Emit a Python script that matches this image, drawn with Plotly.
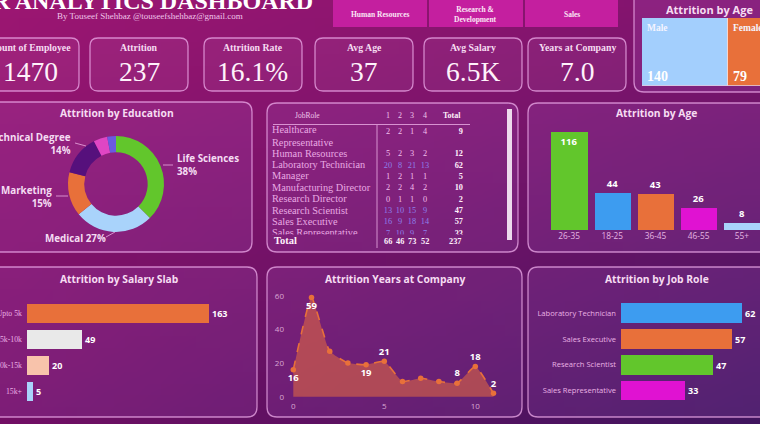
import base64, struct, zlib
import plotly.graph_objects as go

W, H = 760, 424
def X(px): return px / W
def Y(py): return 1 - py / H

# ---------------- data ----------------
kpi_titles = ["Count of Employee", "Attrition", "Attrition Rate", "Avg Age", "Avg Salary", "Years at Company"]
kpi_values = ["1470", "237", "16.1%", "37", "6.5K", "7.0"]
dept_buttons = ["Human Resources", "Research &<br>Development", "Sales"]

gender_labels = ["Male", "Female"]
gender_values = [140, 79]

edu_labels = ["Life Sciences", "Medical", "Marketing", "Technical Degree", "Other", "Human Resources"]
edu_values = [89, 63, 35, 32, 11, 7]

age_groups = ["26-35", "18-25", "36-45", "46-55", "55+"]
age_attrition = [116, 44, 43, 26, 8]

salary_slabs = ["Upto 5k", "5k-10k", "10k-15k", "15k+"]
salary_attrition = [163, 49, 20, 5]

years_at_company = list(range(12))
years_attrition = [16, 59, 27, 20, 19, 21, 9, 11, 9, 8, 18, 2]
years_labelled = [0, 1, 4, 5, 9, 10, 11]

job_roles_top = ["Laboratory Technician", "Sales Executive", "Research Scientist", "Sales Representative"]
job_role_attrition = [62, 57, 47, 33]

table_roles = ["Healthcare Representative", "Human Resources", "Laboratory Technician", "Manager",
               "Manufacturing Director", "Research Director", "Research Scientist", "Sales Executive",
               "Sales Representative"]
table_levels = ["1", "2", "3", "4"]
table_values = [[2, 2, 1, 4], [5, 2, 3, 2], [20, 8, 21, 13], [1, 2, 1, 1], [2, 2, 4, 2],
                [0, 1, 1, 0], [13, 10, 15, 9], [16, 9, 18, 14], [7, 10, 9, 7]]

# ---------------- style ----------------
ORANGE = "#e8703a"
PINK_TXT = "#f0c4ea"
TITLE_TXT = "#f6dcf2"
BORDER = "rgba(236,170,232,0.75)"
PANEL_FILL = "rgba(200,130,245,0.13)"
SERIF = "Liberation Serif"
SANS = "Open Sans"

# ---------------- background gradient image ----------------
def gradient_png(w, h, tl, tr, bl, br):
    rows = []
    for j in range(h):
        v = j / (h - 1)
        row = bytearray([0])
        for i in range(w):
            u = i / (w - 1)
            for c in range(3):
                top = tl[c] * (1 - u) + tr[c] * u
                bot = bl[c] * (1 - u) + br[c] * u
                row.append(int(round(top * (1 - v) + bot * v)))
        rows.append(bytes(row))
    raw = b"".join(rows)
    def chunk(t, d):
        return struct.pack(">I", len(d)) + t + d + struct.pack(">I", zlib.crc32(t + d) & 0xffffffff)
    png = b"\x89PNG\r\n\x1a\n" + chunk(b"IHDR", struct.pack(">IIBBBBB", w, h, 8, 2, 0, 0, 0)) \
        + chunk(b"IDAT", zlib.compress(raw, 9)) + chunk(b"IEND", b"")
    return "data:image/png;base64," + base64.b64encode(png).decode()

bg = gradient_png(64, 36, (156, 22, 114), (128, 20, 110), (114, 14, 100), (64, 20, 94))

def rrect(x0, y0, x1, y1, r):
    p = (f"M {X(x0 + r)},{Y(y0)} L {X(x1 - r)},{Y(y0)} Q {X(x1)},{Y(y0)} {X(x1)},{Y(y0 + r)} "
         f"L {X(x1)},{Y(y1 - r)} Q {X(x1)},{Y(y1)} {X(x1 - r)},{Y(y1)} "
         f"L {X(x0 + r)},{Y(y1)} Q {X(x0)},{Y(y1)} {X(x0)},{Y(y1 - r)} "
         f"L {X(x0)},{Y(y0 + r)} Q {X(x0)},{Y(y0)} {X(x0 + r)},{Y(y0)} Z")
    return p

shapes, annotations = [], []

def ann(x, y, text, size, color="white", family=SANS, xanchor="center", yanchor="middle", **kw):
    annotations.append(dict(x=X(x), y=Y(y), xref="paper", yref="paper", text=text, showarrow=False,
                            font=dict(size=size, color=color, family=family),
                            xanchor=xanchor, yanchor=yanchor, **kw))

# panels
panels = [("Attrition by Education", -18, 102, 252, 252, 113),
          ("", 267, 103, 518, 252, 0),
          ("Attrition by Age", 528, 103, 785, 252, 113),
          ("Attrition by Salary Slab", -18, 267, 257, 417, 279),
          ("Attrition Years at Company", 267, 267, 522, 417, 279),
          ("Attrition by Job Role", 528, 267, 785, 417, 279),
          ("Attrition by Age", 634, -10, 785, 92, 9)]
for title, x0, y0, x1, y1, ty in panels:
    shapes.append(dict(type="path", path=rrect(x0, y0, x1, y1, 10), xref="paper", yref="paper",
                       fillcolor=PANEL_FILL, line=dict(color=BORDER, width=1.3), layer="below"))
    if title:
        ann((x0 + x1) / 2, ty, f"<b>{title}</b>", 11 if ty == 9 else 10.3, TITLE_TXT)

# KPI cards
card_left = [-19, 90, 204, 315, 424, 528]
for i, (t, v) in enumerate(zip(kpi_titles, kpi_values)):
    x0 = card_left[i]
    shapes.append(dict(type="path", path=rrect(x0, 38, x0 + 98, 91, 8), xref="paper", yref="paper",
                       fillcolor="rgba(255,200,255,0.07)", line=dict(color=BORDER, width=1.3), layer="below"))
    ann(x0 + 49, 47, f"<b>{t}</b>", 9.8, TITLE_TXT, SERIF)
    ann(x0 + 49, 72, v, 27.5, "#fff2fb", SERIF)

# department buttons
btn = [(333, 427), (429, 523), (525, 618)]
for (x0, x1), t in zip(btn, dept_buttons):
    shapes.append(dict(type="rect", x0=X(x0), x1=X(x1), y0=Y(27), y1=Y(-2), xref="paper", yref="paper",
                       fillcolor="#c41f9f", line=dict(width=0), layer="below"))
    ann((x0 + x1) / 2, 14, f"<b>{t}</b>", 7.5, "#fbe6f6", SERIF)

# header texts
ann(315, 1, "<b>HR ANALYTICS DASHBOARD</b>", 24, "white", SERIF, xanchor="right")
ann(150, 16, "By Touseef Shehbaz @touseefshehbaz@gmail.com", 9, PINK_TXT, SERIF)

fig = go.Figure()

# ---------------- education donut ----------------
edu_colors = ["#62c62c", "#a9d3fb", ORANGE, "#56107c", "#e046c4", "#6b5ae0"]
fig.add_trace(go.Pie(labels=edu_labels, values=edu_values, hole=0.66, sort=False, direction="clockwise",
                     rotation=0, textinfo="none", marker=dict(colors=edu_colors, line=dict(width=0)),
                     domain=dict(x=[X(68), X(164)], y=[Y(232), Y(136)]), showlegend=False))
tot_edu = sum(edu_values)
pct = {l: f"{round(100 * v / tot_edu)}%" for l, v in zip(edu_labels, edu_values)}
lbl = "#f4dcf2"
ann(73, 144, f"<b>Technical Degree<br>{pct['Technical Degree']}</b>", 9.8, lbl, xanchor="right", align="right")
ann(175, 165, f"<b>Life Sciences<br>{pct['Life Sciences']}</b>", 9.8, lbl, xanchor="left", align="left")
ann(54, 197, f"<b>Marketing<br>{pct['Marketing']}</b>", 9.8, lbl, xanchor="right", align="right")
ann(43, 238, f"<b>Medical {pct['Medical']}</b>", 9.8, lbl, xanchor="left")
for (a, b, c, d) in [(75, 143, 86, 146), (163, 165, 173, 165), (56, 196, 68, 196), (106, 237, 115, 232)]:
    shapes.append(dict(type="line", x0=X(a), y0=Y(b), x1=X(c), y1=Y(d), xref="paper", yref="paper",
                       line=dict(color="rgba(235,170,225,0.8)", width=1)))

# ---------------- age bars ----------------
age_colors = ["#62c62c", "#3d9cf0", ORANGE, "#e012d2", "#a9d3fb"]
fig.add_trace(go.Bar(x=age_groups, y=age_attrition, marker=dict(color=age_colors, line=dict(width=0)),
                     text=[str(v) for v in age_attrition],
                     textposition=["inside"] + ["outside"] * (len(age_groups) - 1),
                     insidetextanchor="end", textangle=0, cliponaxis=False, width=0.84,
                     textfont=dict(size=9.5, color="white", family=SANS, weight="bold"),
                     xaxis="x", yaxis="y", showlegend=False))

# ---------------- salary slab ----------------
sal_colors = [ORANGE, "#e9e9e9", "#f8c3ab", "#a9d3fb"]
fig.add_trace(go.Bar(y=salary_slabs, x=salary_attrition, orientation="h",
                     marker=dict(color=sal_colors, line=dict(width=0)), width=0.74,
                     text=[str(v) for v in salary_attrition], textposition="outside", cliponaxis=False,
                     textfont=dict(size=9, color="white", family=SANS, weight="bold"),
                     xaxis="x2", yaxis="y2", showlegend=False))

# ---------------- years at company ----------------
fig.add_trace(go.Scatter(x=years_at_company, y=years_attrition, mode="lines+markers+text",
                         fill="tozeroy", fillcolor="rgba(232,108,62,0.55)",
                         line=dict(color=ORANGE, width=1.6, dash="dash", shape="spline", smoothing=0.4),
                         marker=dict(size=5.5, color=ORANGE),
                         text=[f"<b>{v}</b>" if i in years_labelled else "" for i, v in enumerate(years_attrition)],
                         textposition=["bottom center", "bottom center", "top center", "top center",
                                       "bottom center", "top center", "top center", "top center",
                                       "top center", "top center", "top center", "top center"],
                         textfont=dict(size=9.5, color="white", family=SANS), cliponaxis=False,
                         xaxis="x3", yaxis="y3", showlegend=False))

# ---------------- job role ----------------
job_colors = ["#3d9cf0", ORANGE, "#62c62c", "#e012d2"]
fig.add_trace(go.Bar(y=job_roles_top, x=job_role_attrition, orientation="h",
                     marker=dict(color=job_colors, line=dict(width=0)), width=0.76,
                     text=[str(v) for v in job_role_attrition], textposition="outside", cliponaxis=False,
                     textfont=dict(size=9, color="white", family=SANS, weight="bold"),
                     xaxis="x4", yaxis="y4", showlegend=False))

# ---------------- gender "treemap" ----------------
g_base = [sum(gender_values[:i]) for i in range(len(gender_values))]
fig.add_trace(go.Bar(y=[0] * len(gender_values), x=gender_values, base=g_base, orientation="h", width=1,
                     marker=dict(color=["#a3cffd", ORANGE], line=dict(color="rgba(255,255,255,0.6)", width=1)),
                     xaxis="x5", yaxis="y5", showlegend=False, hoverinfo="skip"))
for b, lab, v in zip(g_base, gender_labels, gender_values):
    annotations.append(dict(x=b, y=0.5, xref="x5", yref="y5", text=lab, showarrow=False, xanchor="left",
                            yanchor="top", xshift=3, yshift=-3,
                            font=dict(size=9.5, color="#f4f4ff", family=SERIF, weight="bold")))
    annotations.append(dict(x=b, y=-0.5, xref="x5", yref="y5", text=f"<b>{v}</b>", showarrow=False,
                            xanchor="left", yanchor="bottom", xshift=3, yshift=0,
                            font=dict(size=14, color="white", family=SERIF)))

# ---------------- table ----------------
col_x = [388, 400, 412, 425]
tot_x = 463
line0, step = 131.5, 11.35
num_line = [0] + [i + 1 for i in range(1, len(table_roles))]
lab_line = [0.5] + [i + 1 for i in range(1, len(table_roles))]
row_tot = [sum(r) for r in table_values]
role_txt = [r.replace(" ", "<br>", 1) if len(r) > 22 else r for r in table_roles]
fig.add_trace(go.Scatter(x=[272] * len(table_roles), y=[line0 + step * l for l in lab_line], mode="text",
                         text=role_txt, textposition="middle right",
                         textfont=dict(size=10.3, color="#e9a9e3", family=SERIF),
                         xaxis="x6", yaxis="y6", showlegend=False, hoverinfo="skip"))
for c in range(len(table_levels)):
    fig.add_trace(go.Scatter(x=[col_x[c]] * len(table_roles), y=[line0 + step * l for l in num_line],
                             mode="text", text=[str(r[c]) for r in table_values], textposition="middle center",
                             textfont=dict(size=8.3, family=SERIF,
                                           color=["#8d80ea" if t >= 30 else "#f2bfec" for t in row_tot]),
                             xaxis="x6", yaxis="y6", showlegend=False, hoverinfo="skip"))
fig.add_trace(go.Scatter(x=[tot_x] * len(table_roles), y=[line0 + step * l for l in num_line], mode="text",
                         text=[f"<b>{t}</b>" for t in row_tot], textposition="middle left",
                         textfont=dict(size=8.3, color="#fff0fb", family=SERIF),
                         xaxis="x6", yaxis="y6", showlegend=False, hoverinfo="skip"))
# header / total row
ann(307, 115, "JobRole", 7.5, "#efc4ea", SERIF)
for c, lv in enumerate(table_levels):
    ann(col_x[c], 115, lv, 8, "#efc4ea", SERIF)
    ann(col_x[c], 241, f"<b>{sum(r[c] for r in table_values)}</b>", 8.3, "#fff0fb", SERIF)
ann(tot_x, 115, "<b>Total</b>", 8, "#fff0fb", SERIF, xanchor="right")
ann(tot_x, 241, f"<b>{sum(row_tot)}</b>", 8.3, "#fff0fb", SERIF, xanchor="right")
ann(272, 240, "<b>Total</b>", 10.5, "#fff0fb", SERIF, xanchor="left")
shapes.append(dict(type="line", x0=X(273), x1=X(470), y0=Y(124.5), y1=Y(124.5), xref="paper", yref="paper",
                   line=dict(color="rgba(236,175,230,0.8)", width=1)))
shapes.append(dict(type="line", x0=X(377), x1=X(377), y0=Y(125), y1=Y(248), xref="paper", yref="paper",
                   line=dict(color="rgba(236,175,230,0.8)", width=1)))
shapes.append(dict(type="rect", x0=X(507), x1=X(512), y0=Y(240), y1=Y(109), xref="paper", yref="paper",
                   fillcolor="rgba(250,240,250,0.9)", line=dict(width=0)))

# ---------------- layout ----------------
hid = dict(visible=False, fixedrange=True, automargin=False)
tickf = lambda fam, sz, col: dict(family=fam, size=sz, color=col)
fig.update_layout(
    width=W, height=H, margin=dict(l=0, r=0, t=0, b=0, autoexpand=False),
    paper_bgcolor="#80146c", plot_bgcolor="rgba(0,0,0,0)",
    showlegend=False, bargap=0,
    images=[dict(source=bg, xref="paper", yref="paper", x=0, y=1, sizex=1, sizey=1,
                 sizing="stretch", layer="below", xanchor="left", yanchor="top")],
    shapes=shapes, annotations=annotations,
    # age bars
    xaxis=dict(domain=[X(547.5), 1], range=[-0.5, 4.42], showgrid=False, zeroline=False, ticks="",
               tickfont=tickf(SANS, 8.3, "#e4b4e2"), fixedrange=True, automargin=False),
    yaxis=dict(domain=[Y(230), Y(120)], range=[0, 110 / 0.847], **hid),
    # salary
    xaxis2=dict(domain=[X(27), X(240)], range=[0, 213 / 1.117], **hid),
    yaxis2=dict(domain=[Y(403.7), Y(300.6)], anchor="x2", autorange="reversed", showgrid=False,
                zeroline=False, ticks="", ticklabelstandoff=4, automargin=False,
                tickfont=tickf(SERIF, 7.8, "#e9aee3"), fixedrange=True),
    # years
    xaxis3=dict(domain=[X(285), X(505)], range=[(285 - 293.3) / 18.2, (505 - 293.3) / 18.2], anchor="y3",
                tickvals=[0, 5, 10], showgrid=False, zeroline=False, ticks="", showline=False,
                tickfont=tickf(SANS, 8, "#d9a6d3"), fixedrange=True, automargin=False),
    yaxis3=dict(domain=[Y(400), Y(290)], range=[(396.7 - 400) / 1.683, (396.7 - 290) / 1.683], anchor="x3",
                tickvals=[0, 20, 40, 60], showgrid=False, zeroline=False, ticks="",
                tickfont=tickf(SANS, 8, "#d9a6d3"), fixedrange=True, automargin=False),
    # job role
    xaxis4=dict(domain=[X(621), 1], range=[0, 139 / 1.95], **hid),
    yaxis4=dict(domain=[Y(403.6), Y(300)], anchor="x4", autorange="reversed", showgrid=False,
                zeroline=False, ticks="", ticklabelstandoff=4, automargin=False,
                tickfont=tickf(SANS, 7.6, "#eab2e4"), fixedrange=True),
    # gender
    xaxis5=dict(domain=[X(642), 1], range=[0, 118 / 0.6143], **hid),
    yaxis5=dict(domain=[Y(86), Y(18)], range=[-0.5, 0.5], **hid),
    # table body
    xaxis6=dict(domain=[X(267), X(518)], range=[267, 518], **hid),
    yaxis6=dict(domain=[Y(234.5), Y(126)], range=[234.5, 126], **hid),
)
fig.write_html("out.html")
